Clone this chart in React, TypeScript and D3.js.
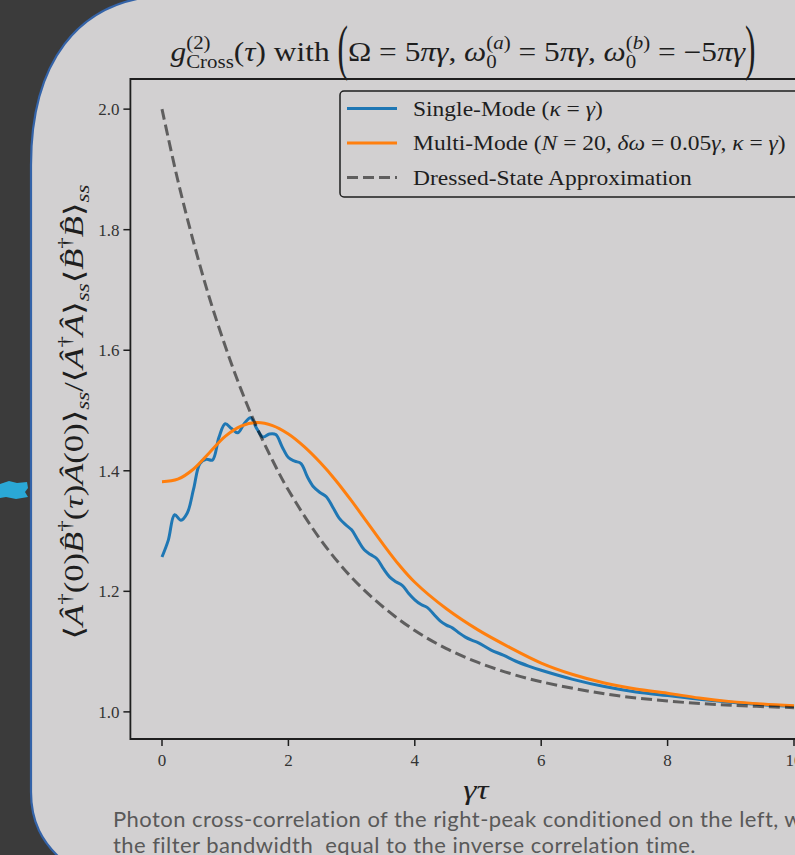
import { useRef, useEffect } from 'react';
import * as d3 from 'd3';

// single-mode filter (kappa = gamma)
const tauSingle = [0, 0.1, 0.2, 0.3, 0.4, 0.5, 0.6, 0.7, 0.8, 0.9, 1.0, 1.1, 1.2, 1.3, 1.4, 1.5, 1.6, 1.7, 1.8, 1.9,
  2.0, 2.1, 2.2, 2.3, 2.4, 2.5, 2.6, 2.7, 2.8, 2.9, 3.0, 3.1, 3.2, 3.3, 3.4, 3.5, 3.6, 3.7, 3.8, 3.9,
  4.0, 4.1, 4.2, 4.3, 4.4, 4.5, 4.6, 4.7, 4.8, 4.9, 5.0, 5.2, 5.4, 5.6, 5.8, 6.0, 6.5, 7.0, 7.5, 8.0, 8.5, 9.0, 9.5, 10.0];
const gSingle = [1.257, 1.285, 1.327, 1.318, 1.33, 1.37, 1.412, 1.419, 1.418, 1.455, 1.478, 1.47, 1.463, 1.478, 1.488, 1.47, 1.456, 1.461, 1.46, 1.44,
  1.422, 1.416, 1.412, 1.39, 1.373, 1.364, 1.357, 1.34, 1.322, 1.311, 1.302, 1.285, 1.269, 1.261, 1.254, 1.238, 1.224, 1.216, 1.21, 1.197,
  1.186, 1.178, 1.173, 1.162, 1.151, 1.144, 1.139, 1.131, 1.124, 1.119, 1.115, 1.103, 1.094, 1.084, 1.076, 1.069, 1.054, 1.042, 1.033, 1.027, 1.021, 1.016, 1.012, 1.009];

// multi-mode filter (N = 20)
const tauMulti = [0, 0.25, 0.5, 0.75, 1.0, 1.25, 1.5, 1.75, 2.0, 2.25, 2.5, 2.75, 3.0, 3.25, 3.5, 3.75, 4.0, 4.5, 5.0, 5.5, 6.0, 6.5, 7.0, 7.5, 8.0, 8.5, 9.0, 9.5, 10.0];
const gMulti = [1.382, 1.386, 1.403, 1.43, 1.457, 1.474, 1.48, 1.475, 1.461, 1.44, 1.414, 1.384, 1.35, 1.314, 1.278, 1.244, 1.215, 1.171, 1.136, 1.107, 1.081, 1.062, 1.048, 1.038, 1.031, 1.023, 1.017, 1.013, 1.01];

// dressed-state approximation
const tauDressed = [0, 0.25, 0.5, 0.75, 1.0, 1.25, 1.5, 1.75, 2.0, 2.5, 3.0, 3.5, 4.0, 4.5, 5.0, 5.5, 6.0, 7.0, 8.0, 9.0, 10.0];
const gDressed = [2.0, 1.882, 1.779, 1.687, 1.607, 1.535, 1.472, 1.417, 1.368, 1.287, 1.223, 1.174, 1.135, 1.105, 1.082, 1.064, 1.05, 1.03, 1.018, 1.011, 1.007];

const xTicks = [0, 2, 4, 6, 8, 10];
const yTicks = [1.0, 1.2, 1.4, 1.6, 1.8, 2.0];

const captionLines = [
  'Photon cross-correlation of the right-peak conditioned on the left, with',
  'the filter bandwidth  equal to the inverse correlation time.',
];

const SERIF = "'Liberation Serif', 'DejaVu Serif', serif";

type Part = [string, boolean];
type Piece = { p: Part[]; sz?: number; dy?: number; stack?: boolean; sy?: number };
const R = (s: string): Part => [s, false];
const I = (s: string): Part => [s, true];
const sup = (p: Part[], sz: number, dy: number): Piece => ({ p, sz, dy });
const sub = (p: Part[], sz: number, dy: number, stack = false): Piece => ({ p, sz, dy, stack });

// lay pieces of "math" text one after another, measuring each
function mathText(parent: any, pieces: Piece[], base: number, fill: string) {
  const g = parent.append('g');
  let cx = 0;
  let mark = 0;
  pieces.forEach(pc => {
    const t = g.append('text')
      .attr('font-family', SERIF)
      .attr('font-size', pc.sz ?? base)
      .attr('fill', fill)
      .style('white-space', 'pre');
    pc.p.forEach(([s, it]) => t.append('tspan').attr('font-style', it ? 'italic' : 'normal').text(s));
    const px = pc.stack ? mark : cx;
    const dy = pc.dy ?? 0;
    if (pc.sy) t.attr('transform', `translate(${px},${dy}) scale(1,${pc.sy})`);
    else t.attr('x', px).attr('y', dy);
    const w = (t.node() as SVGTextElement).getComputedTextLength();
    if (pc.stack) cx = Math.max(cx, px + w);
    else { mark = px; cx = px + w; }
  });
  return { g, width: cx };
}

const ChartPanel = () => {
  const ref = useRef<SVGSVGElement>(null);

  useEffect(() => {
    d3.select(ref.current).selectAll('*').remove();
    const svg = d3.select(ref.current);

    // slide background
    svg.append('rect').attr('width', 795).attr('height', 855).attr('fill', '#3b3b3b');
    svg.append('path')
      .attr('d', 'M31,165 C31,62 78,2 158,-4 L800,-4 L800,860 L62,860 C42,842 31,822 31,792 Z')
      .attr('fill', '#d2d0d1')
      .attr('stroke', '#3463a8')
      .attr('stroke-width', 2.2);
    svg.append('path')
      .attr('d', 'M0,484 L9,481 L17,483 L27,482 L28,488 L25,492 L28,497 L16,499 L6,497 L0,498 Z')
      .attr('fill', '#2aa8d6');

    const x = d3.scaleLinear().domain([-0.5, 10.5]).range([130.4, 825.6]);
    const y = d3.scaleLinear().domain([0.955, 2.05]).range([739, 79]);
    const top = 79, bottom = 739, left = 130.4;
    const ink = '#1e1e1e';

    const line = d3.line<[number, number]>()
      .x(d => x(d[0]))
      .y(d => y(d[1]))
      .curve(d3.curveCatmullRom);

    const plot = svg.append('g');
    plot.append('path')
      .attr('d', line(tauSingle.map((t, i) => [t, gSingle[i]]) as [number, number][]))
      .attr('fill', 'none').attr('stroke', '#1f77b4').attr('stroke-width', 3);
    plot.append('path')
      .attr('d', line(tauMulti.map((t, i) => [t, gMulti[i]]) as [number, number][]))
      .attr('fill', 'none').attr('stroke', '#ff7f0e').attr('stroke-width', 3);
    plot.append('path')
      .attr('d', line(tauDressed.map((t, i) => [t, gDressed[i]]) as [number, number][]))
      .attr('fill', 'none').attr('stroke', '#000').attr('stroke-opacity', 0.55)
      .attr('stroke-width', 3).attr('stroke-dasharray', '11,5');

    // spines
    svg.append('path')
      .attr('d', `M800,${top} H${left} V${bottom} H800`)
      .attr('fill', 'none').attr('stroke', ink).attr('stroke-width', 1.8);

    // ticks
    const yt = svg.append('g');
    yTicks.forEach(v => {
      yt.append('line').attr('x1', left - 7).attr('x2', left).attr('y1', y(v)).attr('y2', y(v))
        .attr('stroke', ink).attr('stroke-width', 1.5);
      yt.append('text').attr('x', left - 11).attr('y', y(v) + 6)
        .attr('text-anchor', 'end').attr('font-family', SERIF).attr('font-size', 17).attr('fill', '#333')
        .text(d3.format('.1f')(v));
    });
    const xt = svg.append('g');
    xTicks.forEach(v => {
      xt.append('line').attr('x1', x(v)).attr('x2', x(v)).attr('y1', bottom).attr('y2', bottom + 7)
        .attr('stroke', ink).attr('stroke-width', 1.5);
      xt.append('text').attr('x', x(v)).attr('y', bottom + 27)
        .attr('text-anchor', 'middle').attr('font-family', SERIF).attr('font-size', 17).attr('fill', '#333')
        .text(String(v));
    });

    // title
    const title = mathText(svg, [
      { p: [I('g')] },
      sup([R('(2)')], 18, -12),
      sub([R('Cross')], 18, 7, true),
      { p: [R('('), I('τ'), R(') with ')] },
      { p: [R('(')], sy: 2.25, dy: 7 },
      { p: [R('Ω = 5'), I('πγ'), R(', '), I('ω')] },
      sup([R('('), I('a'), R(')')], 18, -12),
      sub([R('0')], 18, 7, true),
      { p: [R(' = 5'), I('πγ'), R(', '), I('ω')] },
      sup([R('('), I('b'), R(')')], 18, -12),
      sub([R('0')], 18, 7, true),
      { p: [R(' = −5'), I('πγ')] },
      { p: [R(')')], sy: 2.25, dy: 7 },
    ], 27, ink);
    const tsx = 585 / title.width;
    title.g.attr('transform', `translate(${463 - 585 / 2},61) scale(${tsx},1)`);

    // y label
    const ylab = svg.append('g').attr('transform', 'translate(83,412) rotate(-90)');
    const dag = (): Piece => sup([R('†')], 18, -12);
    const ss = (): Piece => sub([I('ss')], 18, 6);
    const yl = mathText(ylab, [
      { p: [R('⟨'), I('A\u0302')] }, dag(),
      { p: [R('(0)'), I('B\u0302')] }, dag(),
      { p: [R('('), I('τ'), R(')'), I('A\u0302'), R('(0)⟩')] }, ss(),
      { p: [R('/⟨'), I('A\u0302')] }, dag(),
      { p: [I('A\u0302'), R('⟩')] }, ss(),
      { p: [R('⟨'), I('B\u0302')] }, dag(),
      { p: [I('B\u0302'), R('⟩')] }, ss(),
    ], 27, ink);
    const ysx = 455 / yl.width;
    yl.g.attr('transform', `translate(${-455 / 2},0) scale(${ysx},1)`);

    // x label
    const xl = mathText(svg, [{ p: [I('γτ')] }], 28, ink);
    xl.g.attr('transform', `translate(${476 - xl.width * 0.6},799) scale(1.2,1)`);

    // legend
    const lg = svg.append('g');
    lg.append('rect').attr('x', 340).attr('y', 91).attr('width', 480).attr('height', 106).attr('rx', 4)
      .attr('fill', '#d2d0d1').attr('stroke', ink).attr('stroke-width', 1.5);
    const rows: { stroke: string; op: number; dash: string | null; label: Piece[] }[] = [
      { stroke: '#1f77b4', op: 1, dash: null, label: [{ p: [R('Single-Mode ('), I('κ'), R(' = '), I('γ'), R(')')] }] },
      { stroke: '#ff7f0e', op: 1, dash: null, label: [{ p: [R('Multi-Mode ('), I('N'), R(' = 20, '), I('δω'), R(' = 0.05'), I('γ'), R(', '), I('κ'), R(' = '), I('γ'), R(')')] }] },
      { stroke: '#000', op: 0.55, dash: '11,5', label: [{ p: [R('Dressed-State Approximation')] }] },
    ];
    rows.forEach((r, i) => {
      const ly = 108.5 + i * 34.5;
      lg.append('line').attr('x1', 347).attr('x2', 397).attr('y1', ly).attr('y2', ly)
        .attr('stroke', r.stroke).attr('stroke-opacity', r.op).attr('stroke-width', 3)
        .attr('stroke-dasharray', r.dash);
      const t = mathText(lg, r.label, 21, ink);
      t.g.attr('transform', `translate(413,${ly + 7}) scale(1.12,1)`);
    });

    // caption
    captionLines.forEach((s, i) => {
      svg.append('text').attr('x', 113).attr('y', 827 + i * 26)
        .attr('font-family', "Lato, 'Open Sans', sans-serif").attr('font-size', 22).attr('fill', '#595959')
        .attr('letter-spacing', 0.45)
        .style('white-space', 'pre')
        .text(s);
    });
  }, []);

  return <svg ref={ref} width={795} height={855} style={{ position: 'absolute', left: 0, top: 0 }} />;
};

export default function App() {
  return <ChartPanel />;
}
